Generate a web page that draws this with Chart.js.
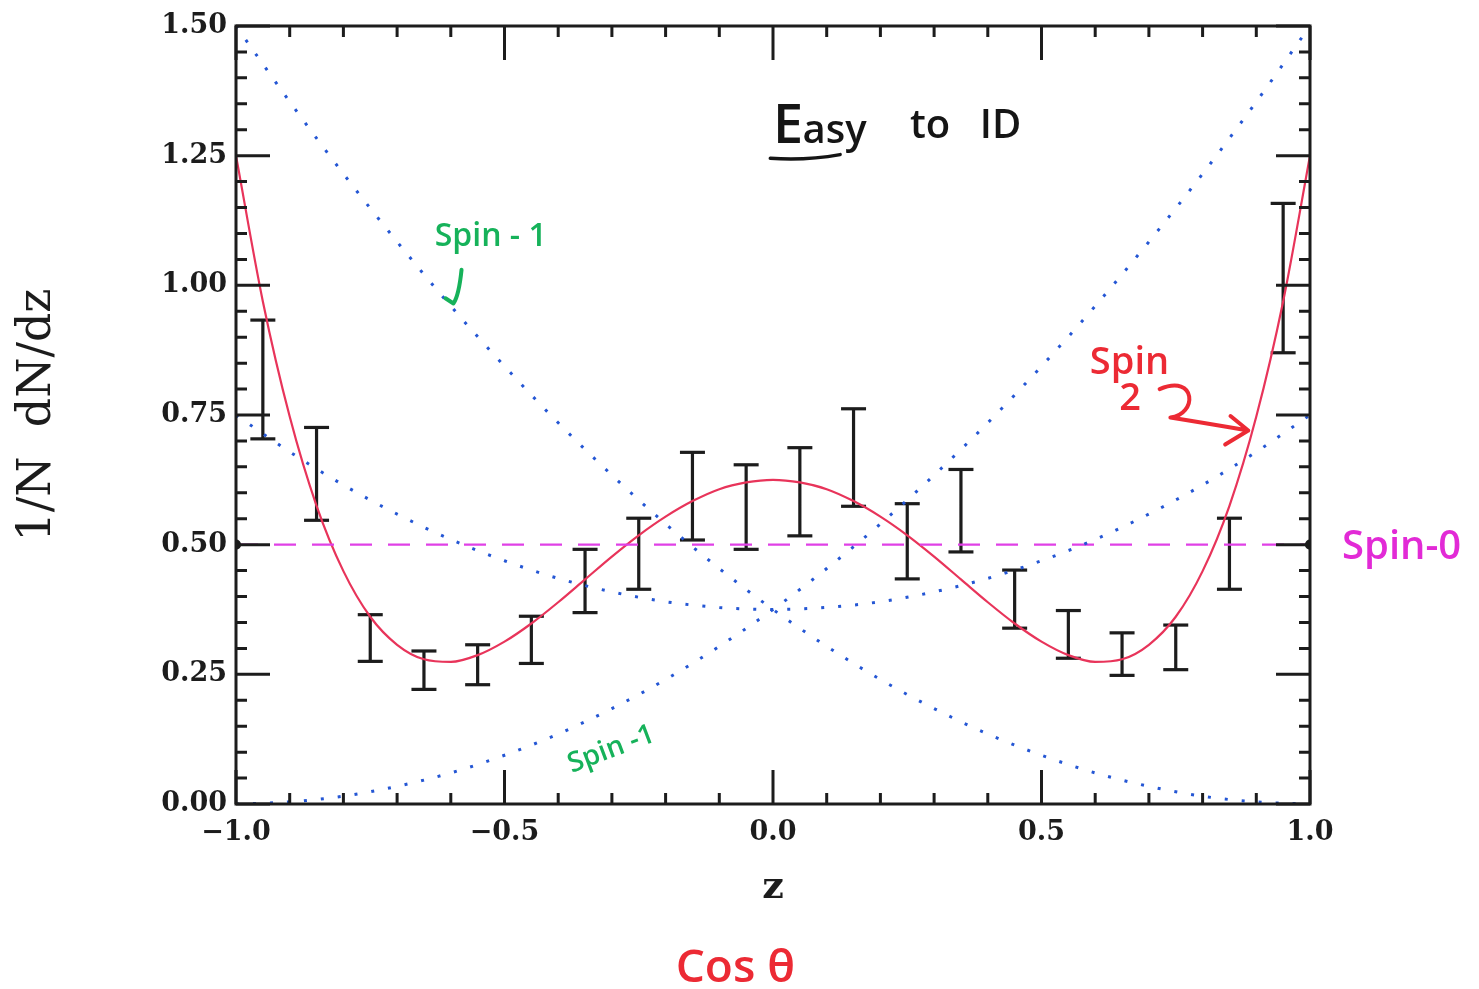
<!DOCTYPE html>
<html><head><meta charset="utf-8">
<script src="https://cdn.jsdelivr.net/npm/chart.js@4.4.1/dist/chart.umd.min.js"></script>
<style>html,body{margin:0;padding:0;background:#fff}#wrap{width:1479px;height:989px;position:relative}</style>
</head><body><div id="wrap"><canvas id="c"></canvas></div>
<script>
// ---- tick labels ----
const X_TICKS = [-1, -0.5, 0, 0.5, 1];
const Y_TICKS = [0, 0.25, 0.5, 0.75, 1, 1.25, 1.5];

// ---- binned data with error bars ----
const BIN_CENTERS = [-0.95,-0.85,-0.75,-0.65,-0.55,-0.45,-0.35,-0.25,-0.15,-0.05,0.05,0.15,0.25,0.35,0.45,0.55,0.65,0.75,0.85,0.95];
const ERR_LOW  = [0.704,0.547,0.275,0.221,0.230,0.271,0.369,0.414,0.509,0.491,0.517,0.574,0.434,0.486,0.339,0.281,0.248,0.259,0.414,0.870];
const ERR_HIGH = [0.933,0.726,0.365,0.295,0.307,0.362,0.491,0.551,0.678,0.654,0.687,0.762,0.579,0.645,0.451,0.373,0.330,0.345,0.551,1.158];

// ---- Spin-2 curve (red) ----
const SPIN2_Z = [-1,-0.95,-0.9,-0.85,-0.8,-0.75,-0.7,-0.65,-0.6,-0.55,-0.5,-0.45,-0.4,-0.35,-0.3,-0.25,-0.2,-0.15,-0.1,-0.05,0,
                 0.05,0.1,0.15,0.2,0.25,0.3,0.35,0.4,0.45,0.5,0.55,0.6,0.65,0.7,0.75,0.8,0.85,0.9,0.95,1];
const SPIN2 = [1.25,0.969,0.747,0.575,0.449,0.361,0.307,0.279,0.274,0.287,0.313,0.348,0.389,0.433,0.477,0.518,0.554,0.584,0.607,0.620,0.625,
               0.620,0.607,0.584,0.554,0.518,0.477,0.433,0.389,0.348,0.313,0.287,0.274,0.279,0.307,0.361,0.449,0.575,0.747,0.969,1.25];

// ---- Spin-1 curves (blue dotted) ----
const SPIN1_Z = [-1,-0.9,-0.8,-0.7,-0.6,-0.5,-0.4,-0.3,-0.2,-0.1,0,0.1,0.2,0.3,0.4,0.5,0.6,0.7,0.8,0.9,1];
const SPIN1_FALL = [1.5,1.354,1.215,1.084,0.96,0.844,0.735,0.634,0.54,0.454,0.375,0.304,0.24,0.184,0.135,0.094,0.06,0.034,0.015,0.004,0];
const SPIN1_RISE = [0,0.004,0.015,0.034,0.06,0.094,0.135,0.184,0.24,0.304,0.375,0.454,0.54,0.634,0.735,0.844,0.96,1.084,1.215,1.354,1.5];
const SPIN1_SYM  = [0.75,0.679,0.615,0.559,0.51,0.469,0.435,0.409,0.39,0.379,0.375,0.379,0.39,0.409,0.435,0.469,0.51,0.559,0.615,0.679,0.75];

// ---- Spin-0 (magenta dashed) ----
const SPIN0_Z = [-1, 1];
const SPIN0 = [0.5, 0.5];

const pts = (xs, ys) => xs.map((x, i) => ({x, y: ys[i]}));
const errData = [];
BIN_CENTERS.forEach((x, i) => {
  errData.push({x, y: ERR_LOW[i]}, {x, y: ERR_HIGH[i]}, {x, y: null});
});

const BLUE = '#2456d4';
const dotted = (data) => ({
  data, borderColor: BLUE, borderWidth: 3, borderDash: [3, 14], pointRadius: 0,
  showLine: true, cubicInterpolationMode: 'monotone', fill: false
});

const frameTicks = {
  id: 'frameTicks',
  afterDatasetsDraw(chart) {
    const {ctx, chartArea: a, scales: {x, y}} = chart;
    ctx.save();
    ctx.strokeStyle = '#1c1c1c'; ctx.lineWidth = 3; ctx.lineCap = 'butt';
    ctx.beginPath();
    for (let i = 0; i <= 20; i++) {
      const px = x.getPixelForValue(-1 + i * 0.1);
      const L = (i % 5 === 0) ? 34 : 11;
      ctx.moveTo(px, a.bottom); ctx.lineTo(px, a.bottom - L);
      ctx.moveTo(px, a.top); ctx.lineTo(px, a.top + L);
    }
    for (let i = 0; i <= 30; i++) {
      const py = y.getPixelForValue(i * 0.05);
      const L = (i % 5 === 0) ? 34 : 11;
      ctx.moveTo(a.left, py); ctx.lineTo(a.left + L, py);
      ctx.moveTo(a.right, py); ctx.lineTo(a.right - L, py);
    }
    ctx.stroke();
    ctx.strokeRect(a.left, a.top, a.right - a.left, a.bottom - a.top);
    ctx.restore();
  }
};

const notes = {
  id: 'notes',
  afterDraw(chart) {
    const {ctx, chartArea: a, scales: {x, y}} = chart;
    const X = v => x.getPixelForValue(v), Y = v => y.getPixelForValue(v);
    const hand = (sz) => `600 ${sz}px "Open Sans", Lato, sans-serif`;
    ctx.save();
    ctx.lineCap = 'round'; ctx.lineJoin = 'round';
    // Easy to ID
    ctx.fillStyle = '#151515';
    ctx.textBaseline = 'alphabetic'; ctx.textAlign = 'left';
    ctx.font = hand(54); ctx.fillText('E', X(0.0), Y(1.275));
    ctx.font = hand(40); ctx.fillText('asy', X(0.055), Y(1.275));
    ctx.fillText('to', X(0.255), Y(1.285));
    ctx.fillText('ID', X(0.385), Y(1.285));
    ctx.strokeStyle = '#151515'; ctx.lineWidth = 3.5;
    ctx.beginPath(); ctx.moveTo(X(-0.005), Y(1.245)); ctx.quadraticCurveTo(X(0.06), Y(1.24), X(0.125), Y(1.252)); ctx.stroke();
    // Spin-1 (upper, green)
    const GREEN = '#16b25a';
    ctx.fillStyle = GREEN; ctx.strokeStyle = GREEN; ctx.lineWidth = 4;
    ctx.font = hand(32);
    ctx.fillText('Spin - 1', X(-0.63), Y(1.075));
    ctx.beginPath(); ctx.moveTo(X(-0.58), Y(1.03)); ctx.quadraticCurveTo(X(-0.585), Y(0.98), X(-0.595), Y(0.965));
    ctx.lineTo(X(-0.61), Y(0.975)); ctx.stroke();
    // Spin-1 (lower, green, rotated)
    ctx.save();
    ctx.translate(X(-0.375), Y(0.06));
    ctx.rotate(-0.36);
    ctx.font = hand(28);
    ctx.fillText('Spin -1', 0, 0);
    ctx.restore();
    // Spin 2 (red)
    const RED = '#ec2a34';
    ctx.fillStyle = RED; ctx.strokeStyle = RED; ctx.lineWidth = 4;
    ctx.font = hand(38);
    ctx.fillText('Spin', X(0.59), Y(0.83));
    ctx.fillText('2', X(0.645), Y(0.76));
    ctx.beginPath();
    ctx.moveTo(X(0.72), Y(0.8));
    ctx.bezierCurveTo(X(0.79), Y(0.83), X(0.79), Y(0.75), X(0.74), Y(0.745));
    ctx.quadraticCurveTo(X(0.8), Y(0.735), X(0.885), Y(0.72));
    ctx.moveTo(X(0.852), Y(0.748)); ctx.lineTo(X(0.885), Y(0.72)); ctx.lineTo(X(0.842), Y(0.693));
    ctx.stroke();
    // Spin-0 (magenta)
    ctx.fillStyle = '#e22ad6';
    ctx.font = hand(40);
    ctx.textBaseline = 'middle';
    ctx.fillText('Spin-0', a.right + 32, Y(0.5) + 3);
    // Cos θ (red)
    ctx.fillStyle = RED;
    ctx.font = hand(46);
    ctx.textAlign = 'center'; ctx.textBaseline = 'alphabetic';
    ctx.fillText('Cos θ', X(-0.07), 982);
    ctx.restore();
  }
};

const tickFont = {family: '"DejaVu Serif", serif', size: 27, weight: 'bold'};

new Chart(document.getElementById('c'), {
  type: 'scatter',
  data: {
    datasets: [
      dotted(pts(SPIN1_Z, SPIN1_FALL)),
      dotted(pts(SPIN1_Z, SPIN1_RISE)),
      dotted(pts(SPIN1_Z, SPIN1_SYM)),
      {
        data: pts(SPIN0_Z, SPIN0), borderColor: '#e040e6', borderWidth: 2.2, borderDash: [22, 16],
        showLine: true, pointRadius: 4, pointBackgroundColor: '#1c1c1c', pointBorderColor: '#1c1c1c'
      },
      {
        data: pts(SPIN2_Z, SPIN2), borderColor: '#e8345a', borderWidth: 2.2, pointRadius: 0,
        showLine: true, cubicInterpolationMode: 'monotone'
      },
      {
        data: errData, borderColor: '#1c1c1c', borderWidth: 3.2, showLine: true, spanGaps: false,
        pointStyle: 'line', pointRadius: 12.5, pointBorderWidth: 3.2, pointBorderColor: '#1c1c1c'
      }
    ]
  },
  options: {
    responsive: true, maintainAspectRatio: false, animation: false, events: [],
    layout: {padding: {left: 0, top: 26, right: 169, bottom: 0}},
    plugins: {legend: {display: false}, tooltip: {enabled: false}},
    scales: {
      x: {
        type: 'linear', min: -1, max: 1,
        grid: {display: false, drawTicks: false}, border: {display: false},
        afterBuildTicks: s => { s.ticks = X_TICKS.map(v => ({value: v})); },
        afterFit: s => { s.height = 185; },
        ticks: {
          font: tickFont, color: '#1c1c1c', padding: 13, maxRotation: 0, autoSkip: false,
          callback: v => (v < 0 ? '\u2212' : '') + Math.abs(v).toFixed(1)
        },
        title: {display: true, text: 'z', color: '#1c1c1c',
          font: {family: '"DejaVu Serif", serif', size: 38, weight: 'bold'}, padding: {top: 0, bottom: 78}}
      },
      y: {
        type: 'linear', min: 0, max: 1.5,
        grid: {display: false, drawTicks: false}, border: {display: false},
        afterBuildTicks: s => { s.ticks = Y_TICKS.map(v => ({value: v})); },
        afterFit: s => { s.width = 236; },
        ticks: {font: tickFont, color: '#1c1c1c', padding: 9, callback: v => v.toFixed(2)},
        title: {display: true, text: '1/N  dN/dz', color: '#1c1c1c',
          font: {family: '"DejaVu Serif", serif', size: 46, weight: 'normal'}, padding: {top: 10, bottom: 0}}
      }
    }
  },
  plugins: [frameTicks, notes]
});
</script></body></html>
